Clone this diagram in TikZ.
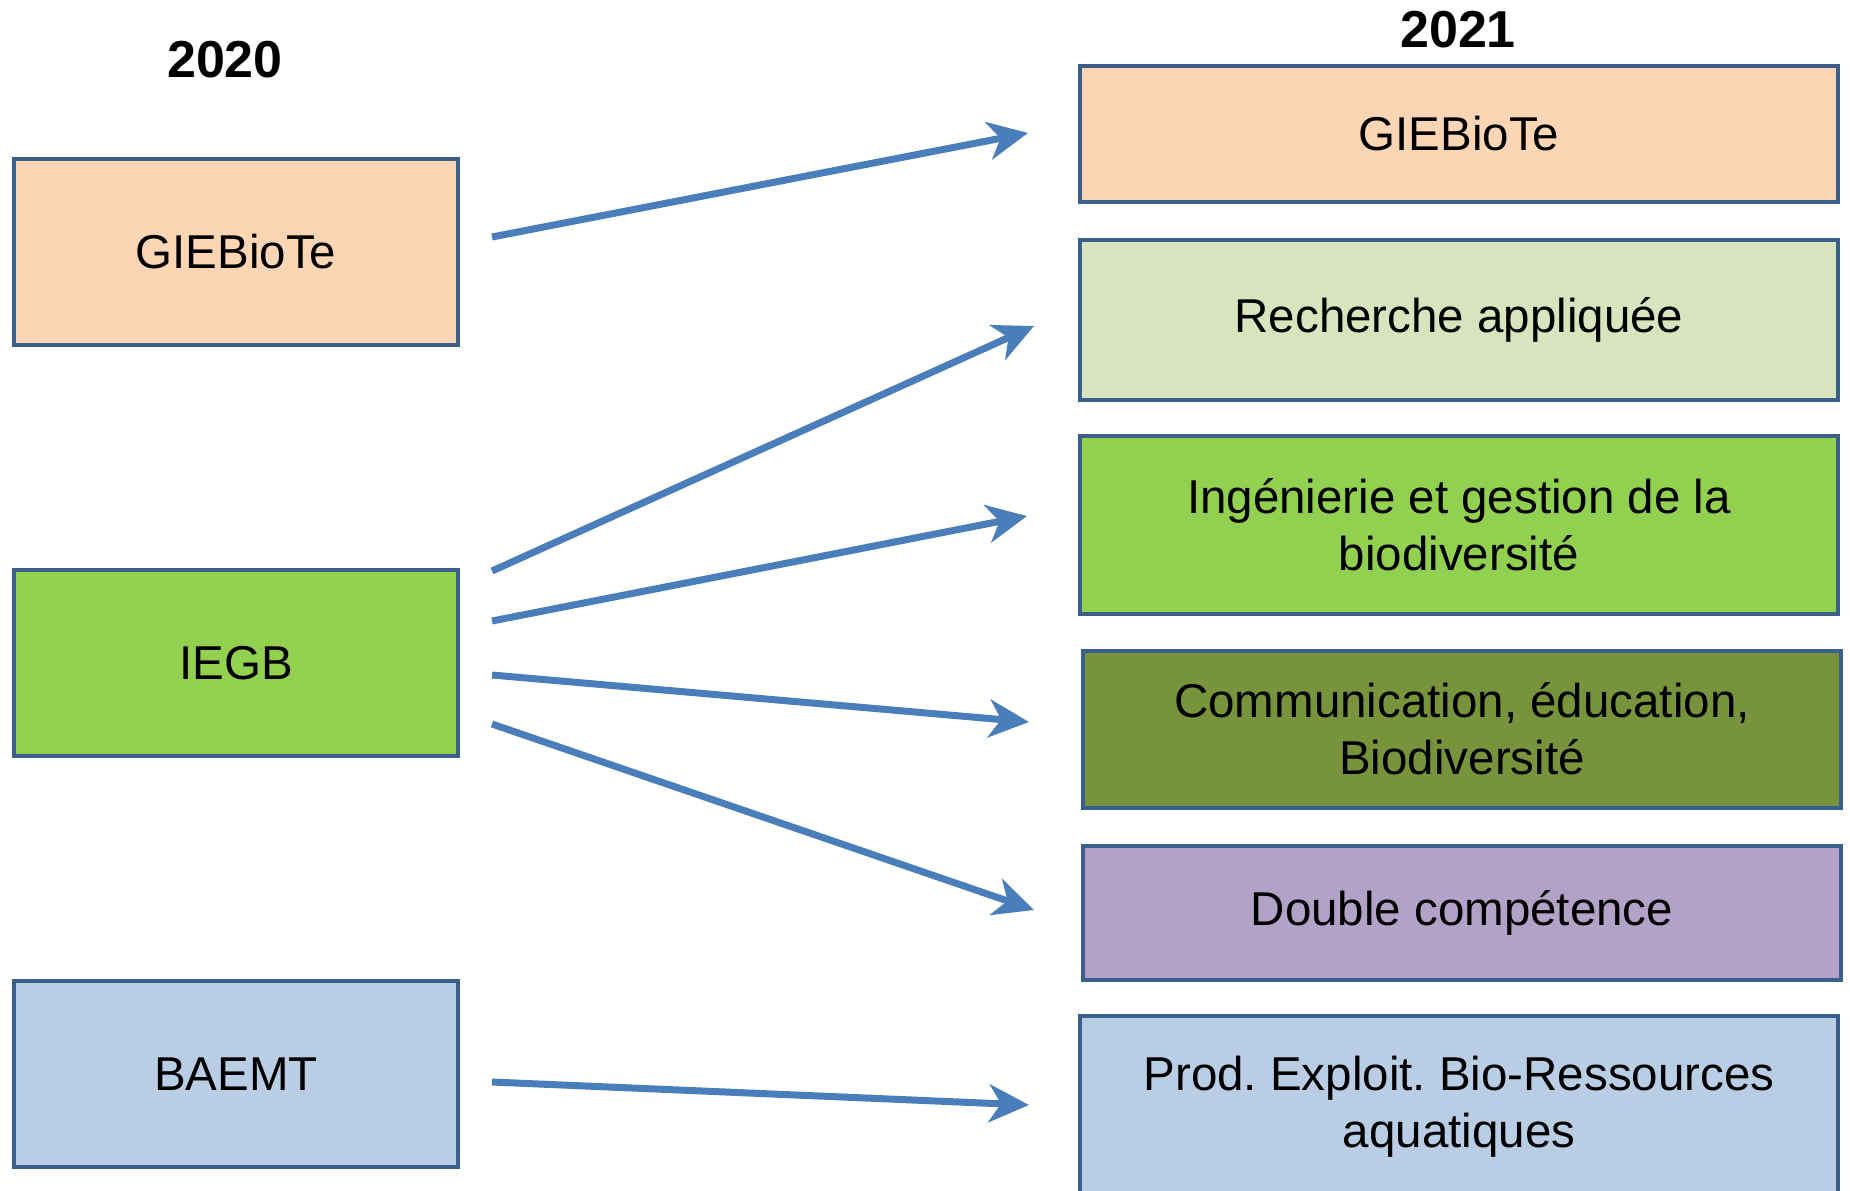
\documentclass[tikz,border=0pt]{standalone}
\usepackage{fontspec}
\setmainfont{Liberation Sans}
\usetikzlibrary{arrows.meta}
\frenchspacing
\definecolor{edgeblue}{HTML}{3A5F8B}
\definecolor{arrowblue}{HTML}{4A7EBB}
\definecolor{peach}{HTML}{FCD5B5}
\definecolor{palegreen}{HTML}{D7E4BD}
\definecolor{leafgreen}{HTML}{92D050}
\definecolor{darkolive}{HTML}{77933C}
\definecolor{lilac}{HTML}{B3A2C7}
\definecolor{skyblue}{HTML}{B9CDE5}
\tikzset{
	yearlabel/.style={font=\bfseries\fontsize{52}{62}\selectfont},
	oldbox/.style={draw=edgeblue,line width=4pt,minimum width=444pt,minimum height=186pt,
	  inner sep=0pt,font=\fontsize{47.5}{57}\selectfont},
	newbox/.style={draw=edgeblue,line width=4pt,minimum width=758pt,inner sep=0pt,
	  align=center,font=\fontsize{47.5}{57}\selectfont},
	link/.style={arrowblue,line width=7pt,-{Stealth[length=40pt,width=38pt,inset=12pt]}}
}
\begin{document}
\begin{tikzpicture}[x=1pt,y=-1pt]
	\useasboundingbox (0,0) rectangle (1850,1191);
	\node[yearlabel] (y2020) at (225,60) {2020};
	\node[yearlabel] (y2021) at (1458,30) {2021};
	\node[oldbox,fill=peach] (giebiote) at (236,252) {GIEBioTe};
	\node[oldbox,fill=leafgreen] (iegb) at (236,663) {IEGB};
	\node[oldbox,fill=skyblue] (baemt) at (236,1074) {BAEMT};
	\node[newbox,fill=peach,minimum height=136pt] (ngiebiote) at (1459,134) {GIEBioTe};
	\node[newbox,fill=palegreen,minimum height=160pt] (recherche) at (1459,320)
	  {Recherche appliquée};
	\node[newbox,fill=leafgreen,minimum height=178pt] (ingenierie) at (1459,525)
	  {Ingénierie et gestion de la\\biodiversité};
	\node[newbox,fill=darkolive,minimum height=157pt] (communication) at (1462,729)
	  {Communication, éducation,\\Biodiversité};
	\node[newbox,fill=lilac,minimum height=134pt] (double) at (1462,913)
	  {Double compétence};
	\node[newbox,fill=skyblue,minimum height=182pt] (prod) at (1459,1107)
	  {Prod. Exploit. Bio-Ressources\\aquatiques};
	\coordinate (from1) at (492,237);
	\coordinate (to1) at (1028,133);
	\coordinate (from2) at (492,571);
	\coordinate (to2) at (1034,326);
	\coordinate (from3) at (492,621);
	\coordinate (to3) at (1027,516);
	\coordinate (from4) at (492,675);
	\coordinate (to4) at (1029,722);
	\coordinate (from5) at (492,724);
	\coordinate (to5) at (1034,910);
	\coordinate (from6) at (492,1082);
	\coordinate (to6) at (1029,1105);
	\foreach \i in {1,...,6}
	  \draw[link] (from\i) -- (to\i);
\end{tikzpicture}
\end{document}
